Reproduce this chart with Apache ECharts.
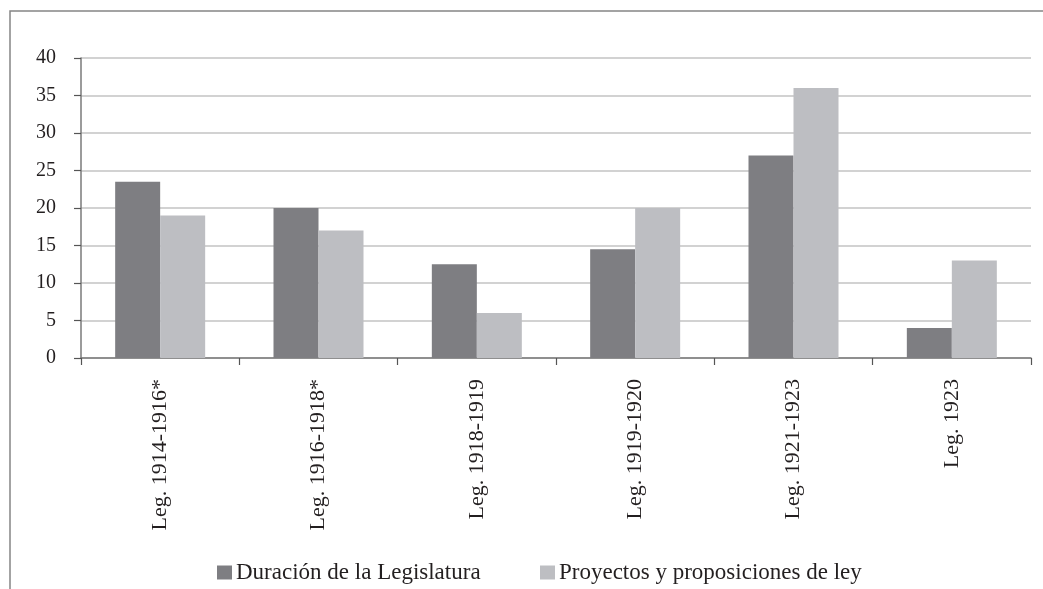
<!DOCTYPE html>
<html><head><meta charset="utf-8">
<script src="https://cdn.jsdelivr.net/npm/echarts@6/dist/echarts.min.js"></script>
<style>html,body{margin:0;padding:0;background:#fff}#c{width:1043px;height:589px}</style>
</head><body><div id="c"></div>
<script>
const categories = ['Leg. 1914-1916*','Leg. 1916-1918*','Leg. 1918-1919','Leg. 1919-1920','Leg. 1921-1923','Leg. 1923'];
const duracion = [23.5, 20, 12.5, 14.5, 27, 4];
const proyectos = [19, 17, 6, 20, 36, 13];
const seriesNames = ['Duración de la Legislatura','Proyectos y proposiciones de ley'];
const font = '"Liberation Serif", "DejaVu Serif", serif';
const legendText = {fontFamily:font,fontSize:23,color:'#231f20',padding:[0,0,0,-1]};
const chart = echarts.init(document.getElementById('c'));
chart.setOption({
  animation:false,
  backgroundColor:'#fff',
  graphic:[{type:'rect',shape:{x:10,y:11,width:1100,height:700},style:{fill:'none',stroke:'#858585',lineWidth:1.5},silent:true}],
  grid:{left:81,right:12,top:58,bottom:231},
  legend:[
    {top:556,left:212,itemWidth:15,itemHeight:14,icon:'rect',textStyle:legendText,data:[seriesNames[0]]},
    {top:556,left:535,itemWidth:15,itemHeight:14,icon:'rect',textStyle:legendText,data:[seriesNames[1]]}
  ],
  xAxis:{type:'category',data:categories,
    axisLine:{lineStyle:{color:'#7a7a7a',width:1.5}},
    axisTick:{show:true,length:7,lineStyle:{color:'#555',width:1.2}},
    axisLabel:{rotate:90,margin:21,fontFamily:font,fontSize:22,color:'#231f20'}},
  yAxis:{type:'value',min:0,max:40,interval:5,
    axisLine:{show:true,lineStyle:{color:'#7a7a7a',width:1.5}},
    axisTick:{show:true,length:7,lineStyle:{color:'#555',width:1.2}},
    splitLine:{lineStyle:{color:'#c3c3c3',width:1.5}},
    axisLabel:{margin:25,fontFamily:font,fontSize:20,color:'#231f20'}},
  series:[
    {name:seriesNames[0],type:'bar',data:duracion,barWidth:45,barGap:'0%',itemStyle:{color:'#7e7e82'}},
    {name:seriesNames[1],type:'bar',data:proyectos,barWidth:45,itemStyle:{color:'#bdbec2'}}
  ]
});
</script></body></html>
